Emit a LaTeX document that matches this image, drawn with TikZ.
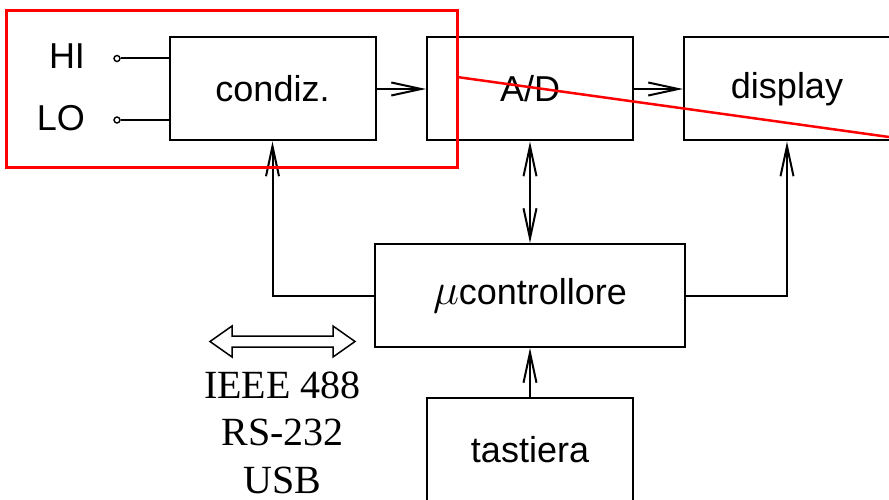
\RequirePackage{fix-cm}
\documentclass[tikz,border=0pt]{standalone}
\usepackage{fontspec}
\setmainfont{Liberation Sans}
\newfontfamily\busfont{Liberation Serif}
\usetikzlibrary{arrows.meta}

\begin{document}
\begin{tikzpicture}[x=1pt, y=-1pt, line width=2pt,
  blk/.style={draw, minimum width=206pt, minimum height=103pt, inner sep=0pt, font=\fontsize{36}{40}\selectfont},
  term/.style={draw, circle, minimum size=6pt, inner sep=0pt, line width=1.4pt},
  lab/.style={anchor=base east, inner sep=0pt, font=\fontsize{36}{40}\selectfont},
  >={Straight Barb[length=30pt, width=13pt]}]
\useasboundingbox (0,0) rectangle (889,500);
\clip (0,0) rectangle (889,500);

\node[blk] (condiz) at (272.5,89) {condiz.};
\node[blk] (ad) at (530,89) {A/D};
\node[blk] (display) at (787,89) {display};
\node[blk, minimum width=310pt] (mc) at (530,295.5) {{\fontsize{44}{48}\selectfont$\mu$}controllore};
\node[blk] (tastiera) at (530,449.5) {tastiera};

\node[lab] (hilab) at (86,69) {HI};
\node[lab] (lolab) at (86,131) {LO};
\node[term] (hi) at (117,58.5) {};
\node[term] (lo) at (117,120) {};
\draw (hi) -- (hi -| condiz.west);
\draw (lo) -- (lo -| condiz.west);

\draw[->] (condiz) -- (ad);
\draw[->] (ad) -- (display);
\draw[<->] (mc) -- (ad);
\draw[->] (mc.west) -| (condiz.south);
\draw[->] (mc.east) -| (display.south);
\draw[->] (tastiera) -- (mc);

% bus
\draw[line width=1.5pt] (210,341.5) -- (232,326) -- (232,336) -- (333,336) -- (333,326)
  -- (355,341.5) -- (333,357) -- (333,347) -- (232,347) -- (232,357) -- cycle;
\node[align=center, anchor=base, inner sep=0pt, font=\busfont\fontsize{40}{47.5}\selectfont] (bus) at (282.5,493) {IEEE 488\\RS-232\\USB};

% evidenziato
\draw[red, line width=3pt] (6.5,10.5) rectangle (457,167.5);
\draw[red, line width=2.5pt] (457,77) -- (889,137);
\end{tikzpicture}
\end{document}
